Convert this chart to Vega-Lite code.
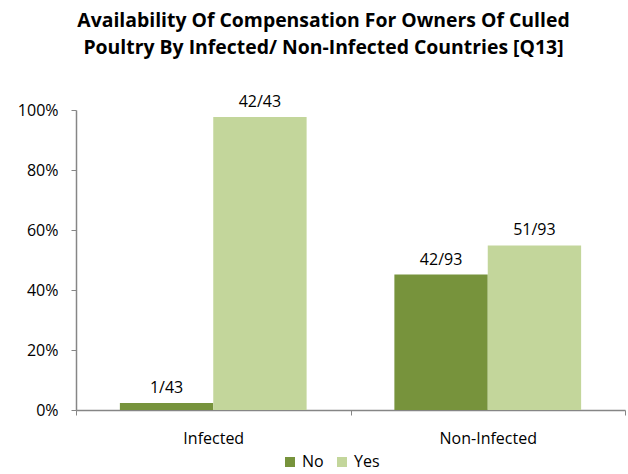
{
  "$schema": "https://vega.github.io/schema/vega-lite/v6.json",
  "autosize": "none",
  "width": 549,
  "height": 300,
  "padding": {"left": 76, "top": 110, "right": 3, "bottom": 64},
  "background": "white",
  "title": {
    "text": ["Availability  Of Compensation  For  Owners Of  Culled", "Poultry By  Infected/ Non-Infected Countries [Q13]"],
    "font": "Open Sans",
    "fontSize": 19.4,
    "fontWeight": "bold",
    "color": "#000000",
    "anchor": "middle",
    "frame": "group",
    "dx": -27,
    "offset": 36,
    "lineHeight": 27
  },
  "data": {
    "values": [
      {"group": "Infected", "answer": "No", "value": 0.0233, "label": "1/43"},
      {"group": "Infected", "answer": "Yes", "value": 0.9767, "label": "42/43"},
      {"group": "Non-Infected", "answer": "No", "value": 0.4516, "label": "42/93"},
      {"group": "Non-Infected", "answer": "Yes", "value": 0.5484, "label": "51/93"}
    ]
  },
  "encoding": {
    "x": {
      "field": "group",
      "type": "nominal",
      "sort": ["Infected", "Non-Infected"],
      "scale": {"paddingInner": 0, "paddingOuter": 0},
      "axis": {
        "title": null,
        "labelAngle": 0,
        "labelFont": "Open Sans",
        "labelFontSize": 16,
        "labelColor": "#000000",
        "labelPadding": 15,
        "tickBand": "extent",
        "tickSize": 5,
        "tickColor": "#868686",
        "domainColor": "#868686",
        "domainWidth": 1.5,
        "grid": false
      }
    },
    "xOffset": {
      "field": "answer",
      "type": "nominal",
      "sort": ["No", "Yes"],
      "scale": {"paddingInner": 0, "paddingOuter": 0.47}
    },
    "y": {
      "field": "value",
      "type": "quantitative",
      "scale": {"domain": [0, 1]},
      "axis": {
        "title": null,
        "format": ".0%",
        "values": [0, 0.2, 0.4, 0.6, 0.8, 1],
        "labelFont": "Open Sans",
        "labelFontSize": 16,
        "labelColor": "#000000",
        "labelPadding": 13,
        "tickSize": 5,
        "tickColor": "#868686",
        "domainColor": "#868686",
        "domainWidth": 1.5,
        "grid": false
      }
    }
  },
  "layer": [
    {
      "mark": {"type": "bar"},
      "encoding": {
        "color": {
          "field": "answer",
          "type": "nominal",
          "scale": {"domain": ["No", "Yes"], "range": ["#77933C", "#C3D69B"]},
          "legend": {
            "title": null,
            "orient": "none",
            "direction": "horizontal",
            "legendX": 206,
            "legendY": 344,
            "symbolType": "square",
            "symbolSize": 100,
            "symbolStrokeWidth": 0,
            "labelFont": "Open Sans",
            "labelFontSize": 16,
            "labelColor": "#000000",
            "labelOffset": 4,
            "columnPadding": 10
          }
        }
      }
    },
    {
      "mark": {"type": "text", "baseline": "bottom", "dy": -7, "font": "Open Sans", "fontSize": 16, "color": "#000000"},
      "encoding": {
        "text": {"field": "label"}
      }
    }
  ],
  "config": {
    "view": {"stroke": null}
  }
}
